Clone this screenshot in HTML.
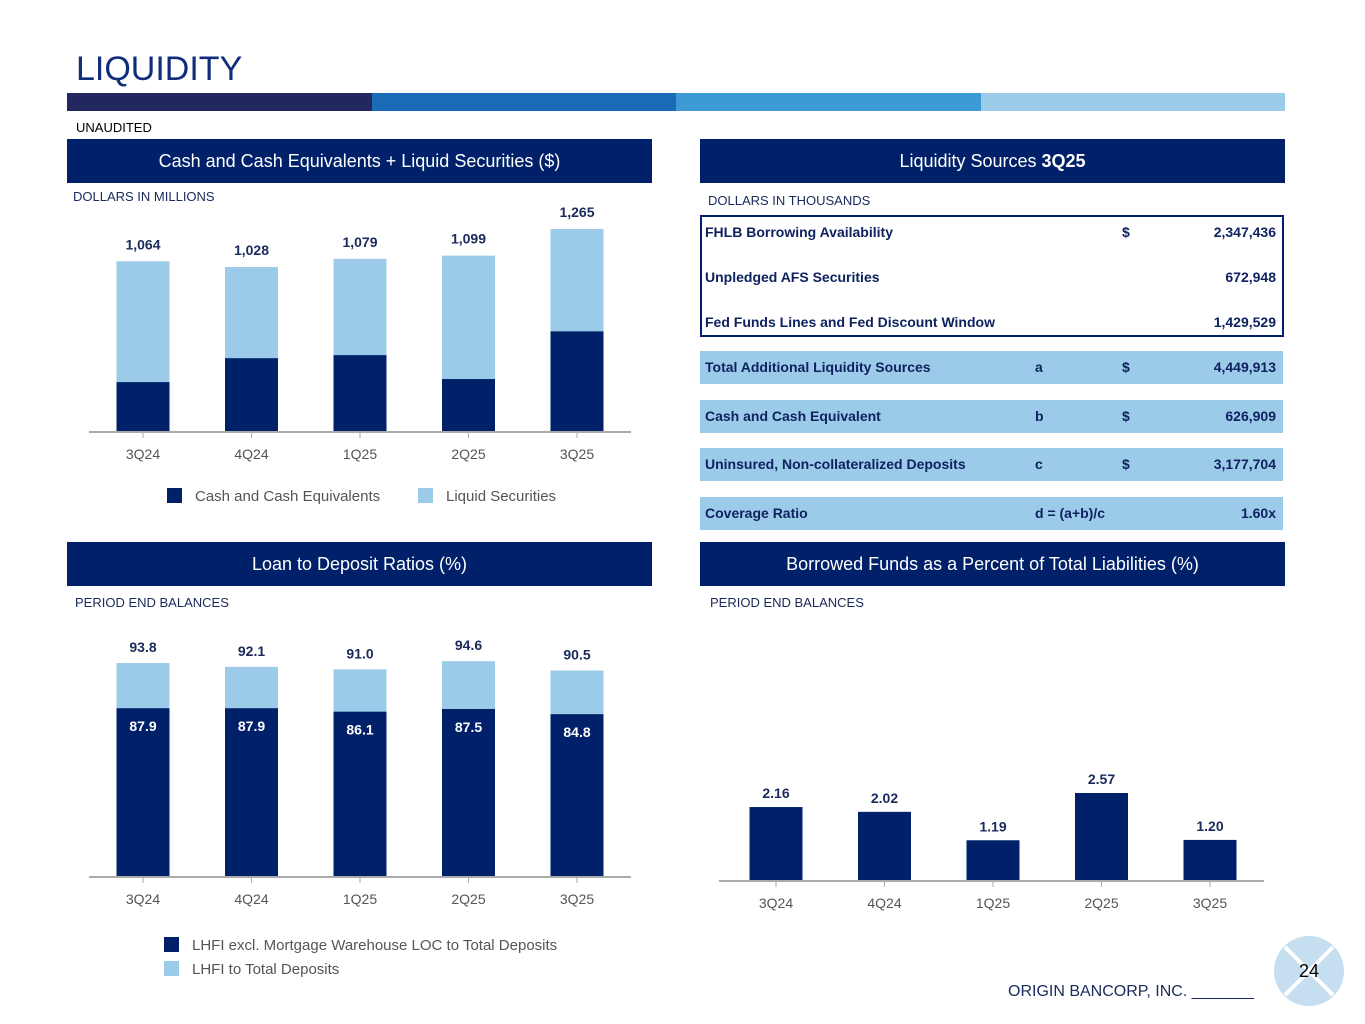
<!DOCTYPE html>
<html><head><meta charset="utf-8"><style>
body{margin:0;width:1365px;height:1024px;background:#fff;font-family:"Liberation Sans",Arial,sans-serif;position:relative;overflow:hidden}
.a{position:absolute}
.hdr{position:absolute;background:#002169;color:#fff;font-size:18px;text-align:center;line-height:44px;height:44px}
.sub{position:absolute;font-size:13px;color:#1a2a5a}
.row{position:absolute;left:700px;width:583px;height:33px;background:#9ccbe9;font-size:14px;font-weight:bold;color:#0f2260}
.row span,.trow span{position:absolute;top:8px}
.trow{position:absolute;left:700px;width:583px;height:30px;font-size:14px;font-weight:bold;color:#0f2260}
</style></head><body>
<div class="a" style="left:76px;top:50px;font-size:34px;color:#0f2d7a">LIQUIDITY</div>
<div class="a" style="left:67px;top:93px;width:1218px;height:18px;display:flex">
<div style="flex:1;background:#22285f"></div><div style="flex:1;background:#1a6bb5"></div><div style="flex:1;background:#3e9ad6"></div><div style="flex:1;background:#9ccbe9"></div></div>
<div class="sub" style="left:76px;top:120px;color:#000">UNAUDITED</div>

<div class="hdr" style="left:67px;top:139px;width:585px">Cash and Cash Equivalents + Liquid Securities ($)</div>
<div class="hdr" style="left:700px;top:139px;width:585px">Liquidity Sources <b>3Q25</b></div>
<div class="hdr" style="left:67px;top:542px;width:585px">Loan to Deposit Ratios (%)</div>
<div class="hdr" style="left:700px;top:542px;width:585px">Borrowed Funds as a Percent of Total Liabilities (%)</div>
<div class="sub" style="left:73px;top:189px">DOLLARS IN MILLIONS</div>
<div class="sub" style="left:708px;top:193px">DOLLARS IN THOUSANDS</div>
<div class="sub" style="left:75px;top:595px">PERIOD END BALANCES</div>
<div class="sub" style="left:710px;top:595px">PERIOD END BALANCES</div>

<div class="a" style="left:700px;top:215px;width:580px;height:118px;border:2px solid #002169"></div>
<div class="trow" style="top:216px"><span style="left:5px">FHLB Borrowing Availability</span><span style="left:422px">$</span><span style="right:7px">2,347,436</span></div>
<div class="trow" style="top:261px"><span style="left:5px">Unpledged AFS Securities</span><span style="right:7px">672,948</span></div>
<div class="trow" style="top:306px"><span style="left:5px">Fed Funds Lines and Fed Discount Window</span><span style="right:7px">1,429,529</span></div>
<div class="row" style="top:351px"><span style="left:5px">Total Additional Liquidity Sources</span><span style="left:335px">a</span><span style="left:422px">$</span><span style="right:7px">4,449,913</span></div>
<div class="row" style="top:400px"><span style="left:5px">Cash and Cash Equivalent</span><span style="left:335px">b</span><span style="left:422px">$</span><span style="right:7px">626,909</span></div>
<div class="row" style="top:448px"><span style="left:5px">Uninsured, Non-collateralized Deposits</span><span style="left:335px">c</span><span style="left:422px">$</span><span style="right:7px">3,177,704</span></div>
<div class="row" style="top:497px"><span style="left:5px">Coverage Ratio</span><span style="left:335px">d = (a+b)/c</span><span style="right:7px">1.60x</span></div>

<svg class="a" style="left:0;top:0" width="1365" height="1024" id="svg"></svg>

<div class="a" style="left:1008px;top:983px;font-size:16px;color:#1a2a5a">ORIGIN BANCORP, INC. _______</div>
<svg class="a" style="left:1273px;top:935px" width="72" height="72">
<circle cx="36" cy="36" r="35" fill="#c5def0"/><line x1="12" y1="12" x2="60" y2="60" stroke="#fff" stroke-width="4"/><line x1="60" y1="12" x2="12" y2="60" stroke="#fff" stroke-width="4"/>
<text x="36" y="42" text-anchor="middle" font-size="18" font-family="Liberation Sans" fill="#000">24</text></svg>

<script>
const cats=["3Q24","4Q24","1Q25","2Q25","3Q25"];
const cashVals=[311,460,479,330,627];
const totalVals=[1064,1028,1079,1099,1265];
const ldrExcl=[87.9,87.9,86.1,87.5,84.8];
const ldrTotal=[93.8,92.1,91.0,94.6,90.5];
const borrowed=[2.16,2.02,1.19,2.57,1.20];
const NS="http://www.w3.org/2000/svg",svg=document.getElementById('svg');
const DARK="#002169",LIGHT="#9ccbe9";
function el(t,a,txt){const e=document.createElementNS(NS,t);for(const k in a)e.setAttribute(k,a[k]);if(txt!==undefined)e.textContent=txt;svg.appendChild(e);return e;}
function axis(x0,x1,y,xs,name){
 let e=el('line',{x1:x0,x2:x1,y1:y,y2:y,stroke:'#aaa','stroke-width':2});
 
 
 cats.forEach((c,i)=>{el('line',{x1:xs(i),x2:xs(i),y1:y,y2:y+6,stroke:'#aaa'});
  let t=el('text',{x:xs(i),y:y+27,'text-anchor':'middle','font-size':14,fill:'#555'},c);
  
  });
}
function lbl(x,y,s,fill,name){let t=el('text',{x:x,y:y,'text-anchor':'middle','font-size':14,'font-weight':'bold',fill:fill},s);
 
 }
// chart 1
{const x=i=>143+i*108.5,base=432,k=203/1265,w=53;
 cats.forEach((c,i)=>{const ht=totalVals[i]*k,hc=cashVals[i]*k;
  let r=el('rect',{x:x(i)-w/2,y:base-ht,width:w,height:ht,fill:LIGHT});
  
  
  r=el('rect',{x:x(i)-w/2,y:base-hc,width:w,height:hc,fill:DARK});
  
  
  lbl(x(i),base-ht-12,totalVals[i].toLocaleString('en-US'),'#1a2a5a','total-label');});
 axis(89,631,base,x,'cash-chart');}
// chart 2
{const x=i=>143+i*108.5,base=877,kd=1.92,kl=214/93.8,w=53;
 cats.forEach((c,i)=>{const hl=ldrTotal[i]*kl,hd=ldrExcl[i]*kd;
  let r=el('rect',{x:x(i)-w/2,y:base-hl,width:w,height:hl,fill:LIGHT});
  
  
  r=el('rect',{x:x(i)-w/2,y:base-hd,width:w,height:hd,fill:DARK});
  
  
  lbl(x(i),base-hl-11,ldrTotal[i].toFixed(1),'#1a2a5a','ldr-total-label');
  lbl(x(i),base-hd+23,ldrExcl[i].toFixed(1),'#fff','ldr-excl-label');});
 axis(89,631,base,x,'ldr-chart');}
// chart 3
{const x=i=>776+i*108.5,base=881,k=88/2.57,w=53;
 cats.forEach((c,i)=>{const h=borrowed[i]*k;
  let r=el('rect',{x:x(i)-w/2,y:base-h,width:w,height:h,fill:DARK});
  
  
  lbl(x(i),base-h-9,borrowed[i].toFixed(2),'#1a2a5a','borrowed-label');});
 axis(719,1264,base,x,'borrowed-chart');}
// legends
function leg(x,y,color,txt,name){let r=el('rect',{x:x,y:y,width:15,height:15,fill:color});
 
 
 let t=el('text',{x:x+28,y:y+13,'font-size':15,fill:'#555'},txt);
 
 }
leg(167,488,DARK,'Cash and Cash Equivalents','legend-cash');
leg(418,488,LIGHT,'Liquid Securities','legend-liquid');
leg(164,937,DARK,'LHFI excl. Mortgage Warehouse LOC to Total Deposits','legend-ldr-excl');
leg(164,961,LIGHT,'LHFI to Total Deposits','legend-ldr-total');
</script>
</body></html>
